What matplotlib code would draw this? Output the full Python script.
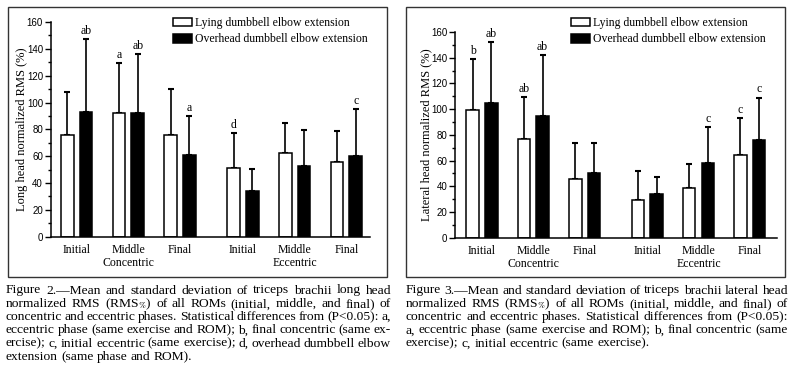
import matplotlib as mpl
import matplotlib.pyplot as plt
import numpy as np
from matplotlib.patches import Patch, Rectangle
from matplotlib.ticker import MultipleLocator

mpl.rcParams['font.family'] = 'Liberation Serif'
mpl.rcParams['mathtext.fontset'] = 'stix'

# categories
rom_labels = ["Initial", "Middle", "Final", "Initial", "Middle", "Final"]
phase_labels = ["Concentric", "Eccentric"]
series_labels = ["Lying dumbbell elbow extension", "Overhead dumbbell elbow extension"]

# Figure 2: long head normalized RMS (%), mean and SD
long_lying_mean = [76, 92, 76, 51.5, 62.5, 55.5]
long_lying_sd = [31.5, 37.5, 34, 26, 22.5, 23.5]
long_over_mean = [93, 92.5, 61, 34, 53, 60]
long_over_sd = [54.5, 43.5, 29, 16.5, 26.5, 35]
long_lying_sig = ["", "a", "", "d", "", ""]
long_over_sig = ["ab", "ab", "a", "", "", "c"]

# Figure 3: lateral head normalized RMS (%)
lat_lying_mean = [99.5, 77, 45.5, 29, 39, 64]
lat_lying_sd = [39.5, 32.5, 28.5, 22.5, 18.5, 29]
lat_over_mean = [105, 95, 50.5, 34, 58, 76]
lat_over_sd = [47, 47, 23.5, 13, 28, 33]
lat_lying_sig = ["b", "ab", "", "", "", "c"]
lat_over_sig = ["ab", "ab", "", "", "c", "c"]

caption2 = [
    "Figure 2.\u2014Mean and standard deviation of triceps brachii long head",
    "normalized RMS (RMS$_{\\%}$) of all ROMs (initial, middle, and final) of",
    "concentric and eccentric phases. Statistical differences from (P<0.05): a,",
    "eccentric phase (same exercise and ROM); b, final concentric (same ex-",
    "ercise); c, initial eccentric (same exercise); d, overhead dumbbell elbow",
    "extension (same phase and ROM).",
]
caption3 = [
    "Figure 3.\u2014Mean and standard deviation of triceps brachii lateral head",
    "normalized RMS (RMS$_{\\%}$) of all ROMs (initial, middle, and final) of",
    "concentric and eccentric phases. Statistical differences from (P<0.05):",
    "a, eccentric phase (same exercise and ROM); b, final concentric (same",
    "exercise); c, initial eccentric (same exercise).",
]

W, H = 800, 368
fig = plt.figure(figsize=(W / 100, H / 100), dpi=100)

pos = np.array([0, 1, 2, 3.22, 4.22, 5.22])
off = 0.182
bw = 0.245


def panel(rect, xlim, lying, lying_sd, over, over_sd, sig_l, sig_o, ylabel, leg_x):
    ax = fig.add_axes(rect)
    ax.bar(pos - off, lying, bw, color="white", edgecolor="black", lw=1.1, zorder=2)
    ax.bar(pos + off, over, bw, color="black", edgecolor="black", lw=1.1, zorder=2)
    z = np.zeros(len(pos))
    ax.errorbar(pos - off, lying, yerr=[z, lying_sd], fmt="none", ecolor="black",
                elinewidth=1.2, capsize=2.2, capthick=1.5, zorder=1)
    ax.errorbar(pos + off, over, yerr=[z, over_sd], fmt="none", ecolor="black",
                elinewidth=1.2, capsize=2.2, capthick=1.5, zorder=1)
    for x, m, s, t in zip(pos - off, lying, lying_sd, sig_l):
        ax.annotate(t, (x, m + s), xytext=(0, 1.5), textcoords="offset points",
                    ha="center", va="bottom", fontsize=8.5)
    for x, m, s, t in zip(pos + off, over, over_sd, sig_o):
        ax.annotate(t, (x, m + s), xytext=(0, 1.5), textcoords="offset points",
                    ha="center", va="bottom", fontsize=8.5)

    ax.set_xlim(*xlim)
    ax.set_ylim(0, 160)
    ax.yaxis.set_major_locator(MultipleLocator(20))
    ax.yaxis.set_minor_locator(MultipleLocator(10))
    ax.tick_params(axis="y", which="major", length=4, width=1, pad=1.5, labelsize=7)
    ax.tick_params(axis="y", which="minor", length=2, width=1)
    for lab in ax.get_yticklabels():
        lab.set_family("Liberation Sans")
    ax.set_xticks(pos, rom_labels)
    ax.tick_params(axis="x", length=0, pad=5, labelsize=8.5)
    for s in ["top", "right"]:
        ax.spines[s].set_visible(False)
    for s in ["left", "bottom"]:
        ax.spines[s].set_linewidth(1.1)
    ax.set_ylabel(ylabel, fontsize=9, labelpad=-0.5)

    ax.annotate(phase_labels[0], (pos[1], 0), xycoords=("data", "axes fraction"),
                xytext=(0, -19), textcoords="offset points", ha="center", va="center", fontsize=8.5)
    ax.annotate(phase_labels[1], (pos[4], 0), xycoords=("data", "axes fraction"),
                xytext=(0, -19), textcoords="offset points", ha="center", va="center", fontsize=8.5)

    handles = [Patch(facecolor="white", edgecolor="black", lw=1.1),
               Patch(facecolor="black", edgecolor="black", lw=1.1)]
    fig.legend(handles, series_labels, loc="upper left",
               bbox_to_anchor=(leg_x / W, 1 - 17 / H), frameon=False, fontsize=8.5,
               borderpad=0, borderaxespad=0, handlelength=1.6, handleheight=0.75,
               handletextpad=0.25, labelspacing=0.38)
    return ax


ax1 = panel([50.7 / W, 1 - 236.7 / H, 319.3 / W, 214.7 / H], (-0.503, 5.68),
            long_lying_mean, long_lying_sd, long_over_mean, long_over_sd,
            long_lying_sig, long_over_sig, "Long head normalized RMS (%)", 173)
ax2 = panel([455 / W, 1 - 237.7 / H, 322 / W, 205.7 / H], (-0.526, 5.75),
            lat_lying_mean, lat_lying_sd, lat_over_mean, lat_over_sd,
            lat_lying_sig, lat_over_sig, "Lateral head normalized RMS (%)", 571)

# frames round each panel
for x0 in [8, 406]:
    fig.add_artist(Rectangle((x0 / W, 1 - 277 / H), 379 / W, 270 / H,
                             transform=fig.transFigure, fill=False, ec="#333333", lw=1))

# justified captions
r = fig.canvas.get_renderer()


def caption(lines, x0, x1):
    for i, line in enumerate(lines):
        y = 1 - (293.5 + i * 13.3) / H
        words = line.split(" ")
        texts = [fig.text(0, y, w, fontsize=9.7, va="baseline") for w in words]
        widths = [t.get_window_extent(renderer=r).width for t in texts]
        if i < len(lines) - 1:
            gap = max((x1 - x0 - sum(widths)) / (len(words) - 1), 2.2)
        else:
            gap = 3.2
        x = x0
        for t, w in zip(texts, widths):
            t.set_x(x / W)
            x += w + gap


caption(caption2, 6, 391)
caption(caption3, 406, 788)

fig.savefig("out.png", dpi=100)
